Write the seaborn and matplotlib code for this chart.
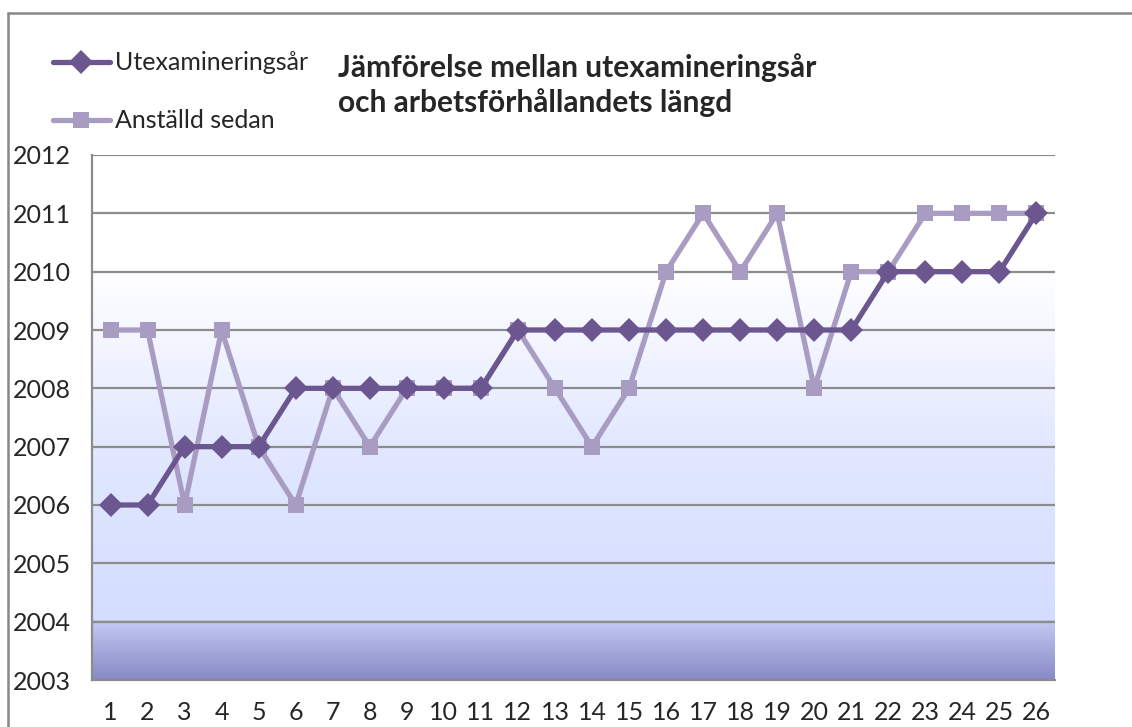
import matplotlib
matplotlib.use("agg")
import matplotlib.pyplot as plt
import seaborn as sns
import numpy as np
import pandas as pd
from matplotlib.colors import LinearSegmentedColormap
from matplotlib.lines import Line2D

# data
respondents = list(range(1, 27))
utexamineringsar = [2006, 2006, 2007, 2007, 2007, 2008, 2008, 2008, 2008, 2008, 2008,
                    2009, 2009, 2009, 2009, 2009, 2009, 2009, 2009, 2009, 2009,
                    2010, 2010, 2010, 2010, 2011]
anstalld_sedan = [2009, 2009, 2006, 2009, 2007, 2006, 2008, 2007, 2008, 2008, 2008,
                  2009, 2008, 2007, 2008, 2010, 2011, 2010, 2011, 2008, 2010,
                  2010, 2011, 2011, 2011, 2011]
series_names = ["Utexamineringsår", "Anställd sedan"]
year_ticks = list(range(2003, 2013))

df = pd.DataFrame({
    "nr": respondents * 2,
    "year": utexamineringsar + anstalld_sedan,
    "serie": [series_names[0]] * 26 + [series_names[1]] * 26,
})

sns.set_style("white")
plt.rcParams["font.family"] = ["Lato", "DejaVu Sans"]

DARK = "#6B5690"
LIGHT = "#A99CC3"
GRID = "#8C8C8C"

fig = plt.figure(figsize=(11.32, 7.27), dpi=100)
ax = fig.add_axes([92 / 1132, 47 / 727, 963 / 1132, 525 / 727])

# gradient background (Excel style)
cmap = LinearSegmentedColormap.from_list("bg", [
    (0.0, "#8A8AC6"), (0.1099, "#C2C9F1"), (0.1111, "#D3DDFE"),
    (0.45, "#E2E8FF"), (0.78, "#FFFFFF"), (1.0, "#FFFFFF")])
grad = np.linspace(0, 1, 500).reshape(-1, 1)
ax.imshow(grad, extent=[0.5, 26.5, 2003, 2012], origin="lower", aspect="auto",
          cmap=cmap, zorder=0)

for y in year_ticks:
    ax.axhline(y, color=GRID, lw=1.6, zorder=1)

# draw light series first so the dark one lies on top
sns.lineplot(data=df, x="nr", y="year", hue="serie", style="serie",
             palette={series_names[0]: DARK, series_names[1]: LIGHT},
             markers={series_names[0]: "D", series_names[1]: "s"}, dashes=False,
             markersize=12, linewidth=3.8, markeredgewidth=0,
             hue_order=series_names[::-1], style_order=series_names[::-1],
             legend=False, ax=ax, zorder=3)

ax.set_xlim(0.5, 26.5)
ax.set_ylim(2003, 2012)
ax.set_yticks(year_ticks)
ax.set_yticklabels([str(y) for y in year_ticks], fontsize=18, ha="left")
ax.set_xticks(respondents)
ax.set_xticklabels([str(i) for i in respondents], fontsize=18)
ax.set_xticks(np.arange(0.5, 27, 1), minor=True)
ax.tick_params(axis="x", which="major", length=0, pad=15)
ax.tick_params(axis="x", which="minor", length=6, width=1.6, color=GRID)
ax.tick_params(axis="y", length=6, width=1.6, color=GRID, pad=51)
ax.set_xlabel("")
ax.set_ylabel("")
for side in ["top", "right"]:
    ax.spines[side].set_visible(False)
for side in ["left", "bottom"]:
    ax.spines[side].set_color(GRID)
    ax.spines[side].set_linewidth(1.6)

# outer chart frame
fig.add_artist(Line2D([8 / 1132, 1.0], [1 - 13 / 727, 1 - 13 / 727], color="#888888", lw=1.8))
fig.add_artist(Line2D([8 / 1132, 8 / 1132], [0, 1 - 13 / 727], color="#888888", lw=1.8))

handles = [Line2D([], [], color=DARK, lw=3.8, marker="D", markersize=12, markeredgewidth=0),
           Line2D([], [], color=LIGHT, lw=3.8, marker="s", markersize=12, markeredgewidth=0)]
fig.legend(handles, series_names, loc="upper left", bbox_to_anchor=(30 / 1132, 1 - 29 / 727),
           frameon=False, fontsize=18, handlelength=2.3, handletextpad=0.2,
           labelspacing=1.4)

fig.text(338 / 1132, 1 - 85 / 727, "Jämförelse mellan utexamineringsår\noch arbetsförhållandets längd",
         fontsize=21.5, fontweight="bold", va="center", ha="left", linespacing=1.25)

fig.savefig("out.png", dpi=100)
